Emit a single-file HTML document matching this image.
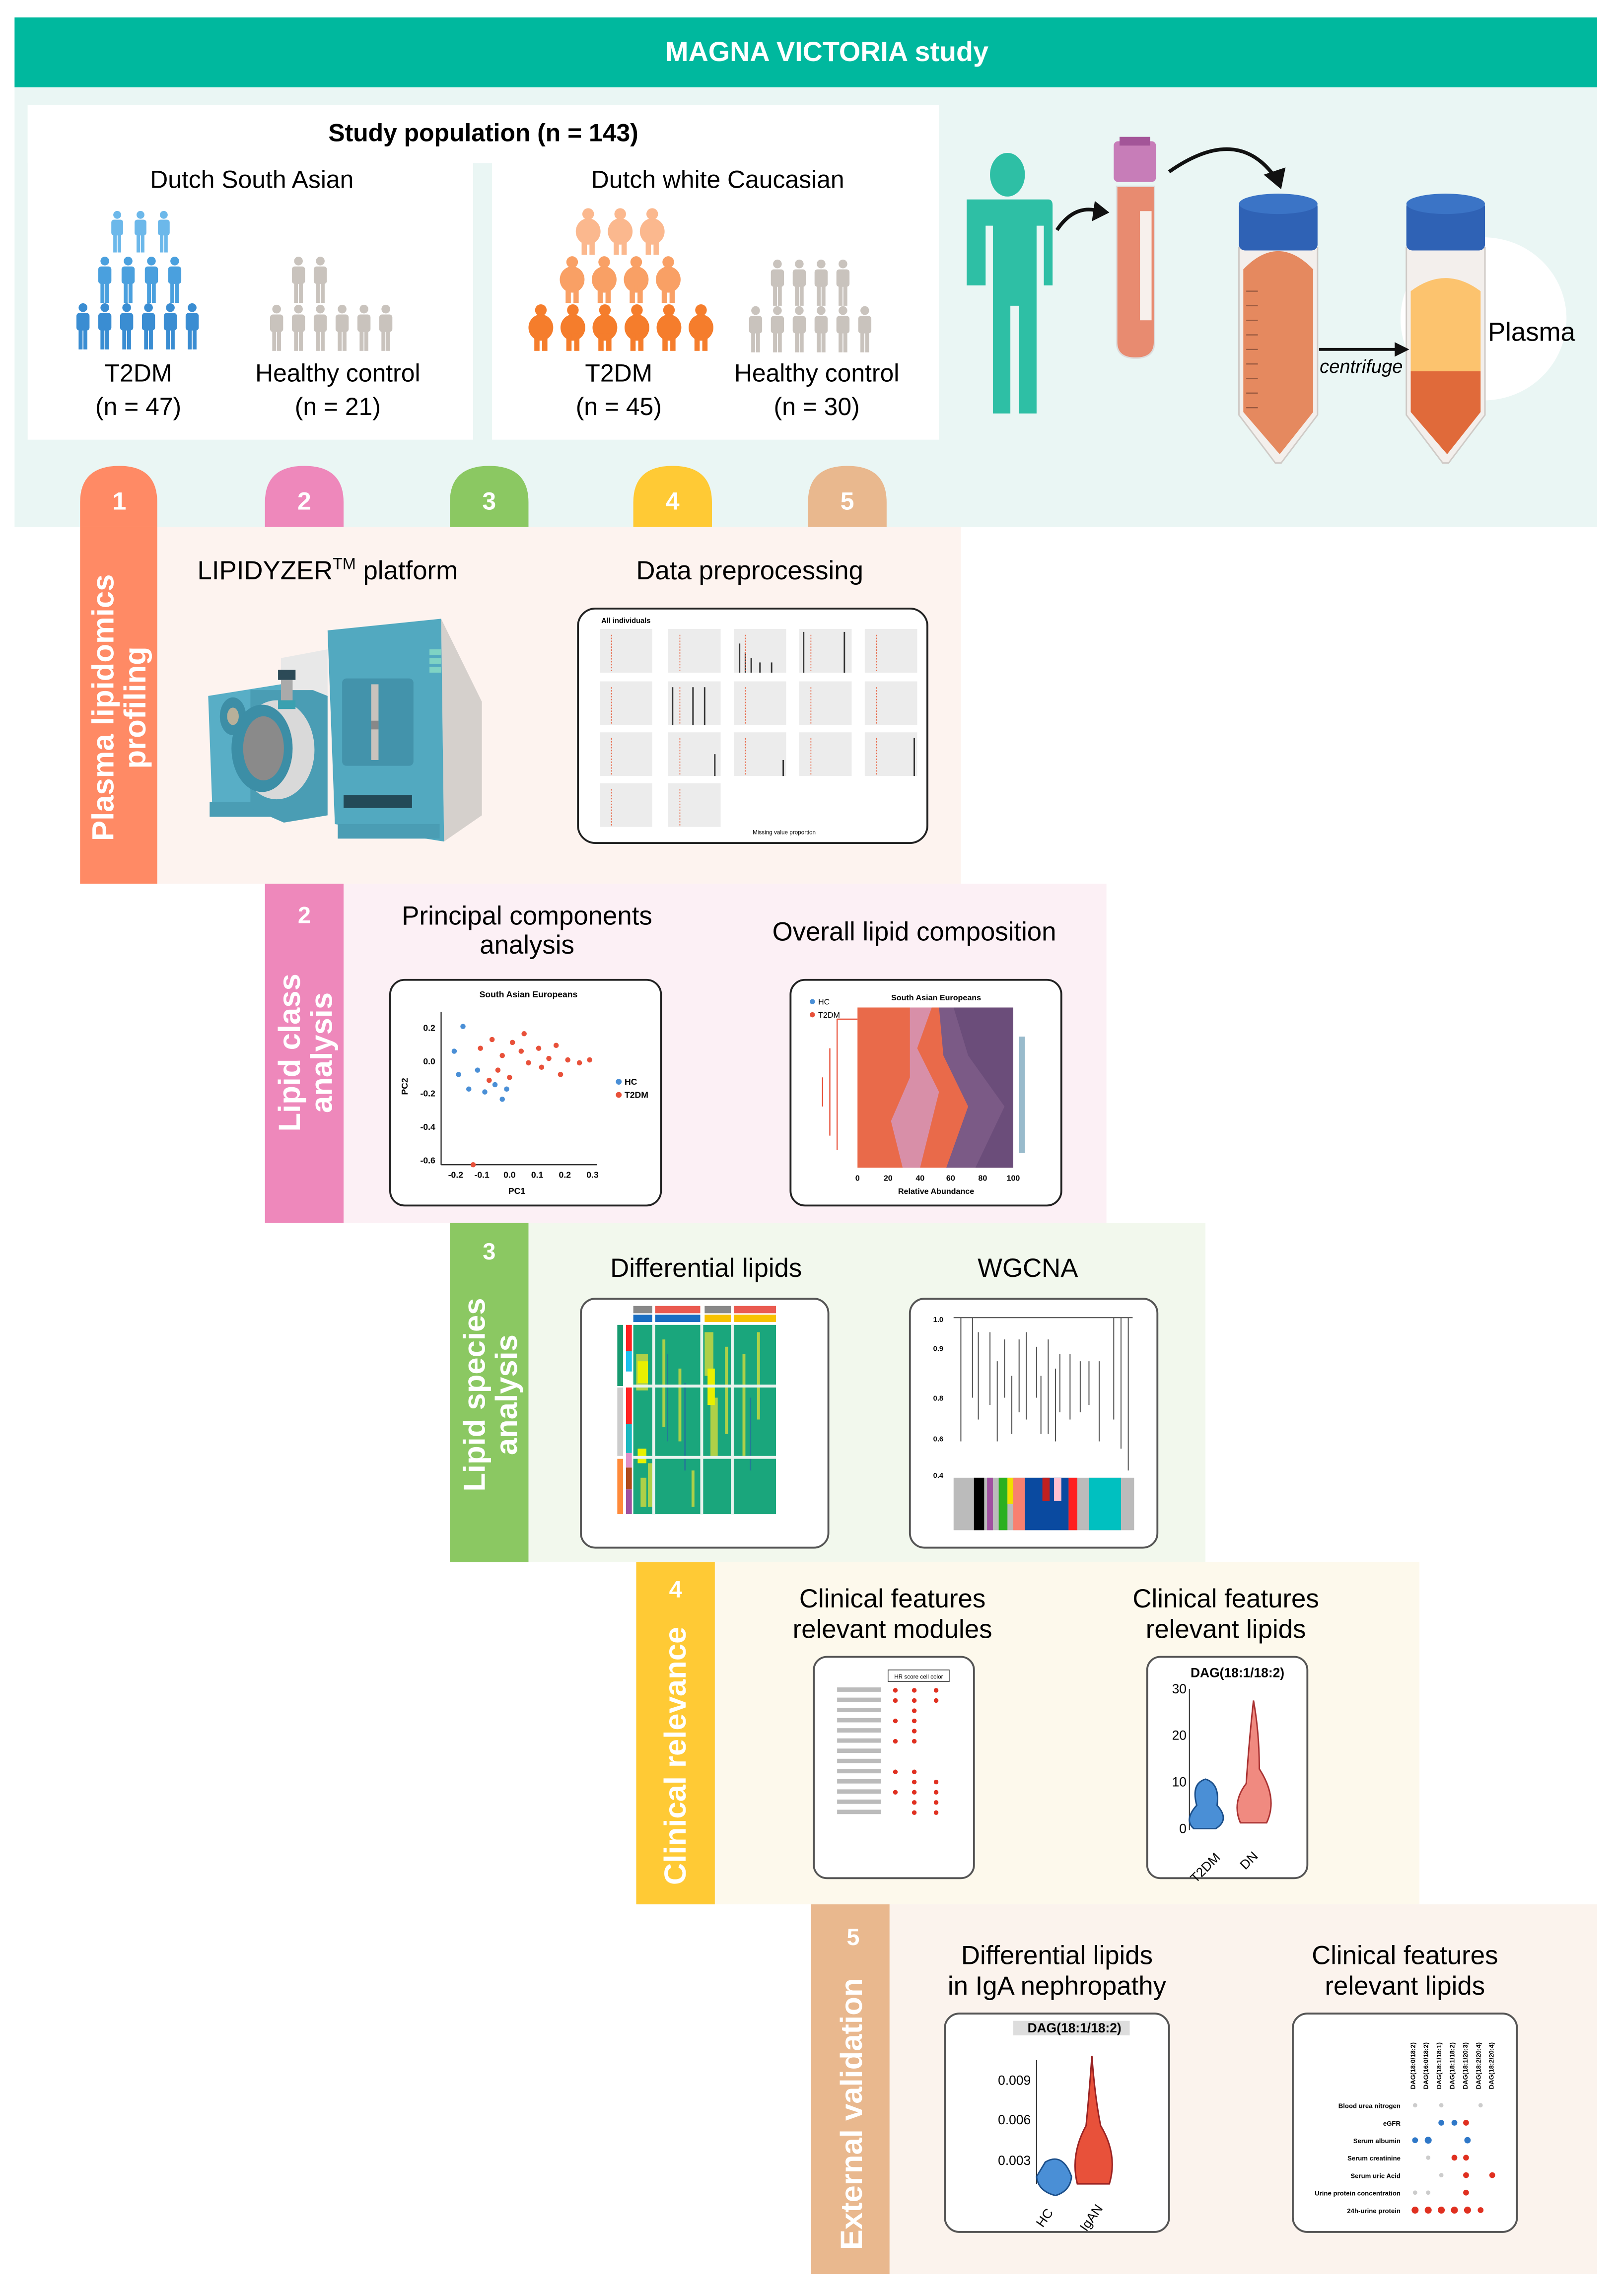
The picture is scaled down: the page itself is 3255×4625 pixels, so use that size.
<!DOCTYPE html>
<html><head><meta charset="utf-8"><style>
html,body{margin:0;padding:0;background:#fff;}
svg{display:block;}
text{font-family:"Liberation Sans",Arial,sans-serif;}
</style></head><body>
<svg width="3255" height="4625" viewBox="0 0 1110 1577" preserveAspectRatio="none" xmlns="http://www.w3.org/2000/svg">
<defs>
<symbol id="p" viewBox="0 0 10 32" overflow="visible">
<circle cx="5" cy="3.3" r="3"/>
<rect x="0.5" y="7" width="9" height="12" rx="2"/>
<rect x="2" y="17" width="2.7" height="15"/>
<rect x="5.3" y="17" width="2.7" height="15"/>
</symbol>
<symbol id="f" viewBox="0 0 18 32" overflow="visible">
<circle cx="9" cy="4" r="4"/>
<ellipse cx="9" cy="16" rx="8.5" ry="9"/>
<rect x="4.5" y="20" width="3.6" height="12"/>
<rect x="9.9" y="20" width="3.6" height="12"/>
</symbol>
</defs>
<rect width="1110" height="1577" fill="#fff"/>
<!-- header -->
<rect x="10" y="12" width="1087" height="48" fill="#00b89e"/>
<text x="568" y="42" font-size="19" font-weight="bold" fill="#fff" text-anchor="middle">MAGNA VICTORIA study</text>
<rect x="10" y="60" width="1087" height="302" fill="#eaf6f4"/>
<!-- population boxes -->
<rect x="19" y="72" width="626" height="40" fill="#fff"/>
<rect x="19" y="72" width="306" height="230" fill="#fff"/>
<rect x="338" y="72" width="307" height="230" fill="#fff"/>
<text x="332" y="97" font-size="17" font-weight="bold" text-anchor="middle">Study population (n = 143)</text>
<text x="173" y="129" font-size="17" text-anchor="middle">Dutch South Asian</text>
<text x="493" y="129" font-size="17" text-anchor="middle">Dutch white Caucasian</text>
<!-- blue people -->
<g fill="#6cb8ea">
<use href="#p" x="76" y="143" width="9" height="32"/><use href="#p" x="92" y="143" width="9" height="32"/><use href="#p" x="108" y="143" width="9" height="32"/>
</g>
<g fill="#4aa0de">
<use href="#p" x="67" y="176" width="10" height="32"/><use href="#p" x="83" y="176" width="10" height="32"/><use href="#p" x="99" y="176" width="10" height="32"/><use href="#p" x="115" y="176" width="10" height="32"/>
</g>
<g fill="#3a8dd2">
<use href="#p" x="52" y="208" width="10" height="32"/><use href="#p" x="67" y="208" width="10" height="32"/><use href="#p" x="82" y="208" width="10" height="32"/><use href="#p" x="97" y="208" width="10" height="32"/><use href="#p" x="112" y="208" width="10" height="32"/><use href="#p" x="127" y="208" width="10" height="32"/>
</g>
<g fill="#c9c3bd">
<use href="#p" x="200" y="176" width="10" height="32"/><use href="#p" x="215" y="176" width="10" height="32"/>
<use href="#p" x="185" y="209" width="10" height="32"/><use href="#p" x="200" y="209" width="10" height="32"/><use href="#p" x="215" y="209" width="10" height="32"/><use href="#p" x="230" y="209" width="10" height="32"/><use href="#p" x="245" y="209" width="10" height="32"/><use href="#p" x="260" y="209" width="10" height="32"/>
<use href="#p" x="529" y="178" width="10" height="32"/><use href="#p" x="544" y="178" width="10" height="32"/><use href="#p" x="559" y="178" width="10" height="32"/><use href="#p" x="574" y="178" width="10" height="32"/>
<use href="#p" x="514" y="210" width="10" height="32"/><use href="#p" x="529" y="210" width="10" height="32"/><use href="#p" x="544" y="210" width="10" height="32"/><use href="#p" x="559" y="210" width="10" height="32"/><use href="#p" x="574" y="210" width="10" height="32"/><use href="#p" x="589" y="210" width="10" height="32"/>
</g>
<g fill="#fbb88e">
<use href="#f" x="395" y="143" width="18" height="32"/><use href="#f" x="417" y="143" width="18" height="32"/><use href="#f" x="439" y="143" width="18" height="32"/>
</g>
<g fill="#f9a065">
<use href="#f" x="384" y="176" width="18" height="32"/><use href="#f" x="406" y="176" width="18" height="32"/><use href="#f" x="428" y="176" width="18" height="32"/><use href="#f" x="450" y="176" width="18" height="32"/>
</g>
<g fill="#f57d2c">
<use href="#f" x="362" y="209" width="19" height="32"/><use href="#f" x="384" y="209" width="19" height="32"/><use href="#f" x="406" y="209" width="19" height="32"/><use href="#f" x="428" y="209" width="19" height="32"/><use href="#f" x="450" y="209" width="19" height="32"/><use href="#f" x="472" y="209" width="19" height="32"/>
</g>
<g font-size="17" text-anchor="middle">
<text x="95" y="262">T2DM</text><text x="95" y="285">(n = 47)</text>
<text x="232" y="262">Healthy control</text><text x="232" y="285">(n = 21)</text>
<text x="425" y="262">T2DM</text><text x="425" y="285">(n = 45)</text>
<text x="561" y="262">Healthy control</text><text x="561" y="285">(n = 30)</text>
</g>
<!-- right: person + tubes -->
<ellipse cx="1019" cy="219" rx="57" ry="56" fill="#fff"/>
<g fill="#2ebfa5">
<ellipse cx="692" cy="120" rx="12" ry="15"/>
<path d="M664 137 H720 Q723 137 723 141 V196 H717 V155 H712 V284 H700 V210 H694 V284 H682 V155 H677 V196 H664 Z"/>
</g>
<path d="M726 158 Q738 140 755 145" stroke="#111" stroke-width="2.5" fill="none"/>
<path d="M752 138 L762 146 L750 152 Z" fill="#111"/>
<path d="M803 118 Q850 85 876 122" stroke="#111" stroke-width="2.5" fill="none"/>
<path d="M868 120 L880 130 L883 115 Z" fill="#111"/>
<!-- small tube -->
<rect x="765" y="97" width="29" height="28" rx="3" fill="#c77db8"/>
<rect x="769" y="94" width="21" height="6" fill="#a35598"/>
<path d="M767 128 H793 V235 Q793 246 780 246 Q767 246 767 235 Z" fill="#e88b70" stroke="#ddd" stroke-width="1"/>
<rect x="783" y="145" width="8" height="75" fill="#f7f0ec"/>
<!-- big tube 1 -->
<path d="M851 170 H905 V285 L880 318 L876 318 L851 285 Z" fill="#f3efec" stroke="#cfcac6"/>
<path d="M854 185 Q878 160 902 185 V283 L879 312 L854 283 Z" fill="#e5895f"/>
<rect x="851" y="138" width="54" height="34" rx="4" fill="#2f62b5"/>
<ellipse cx="878" cy="140" rx="27" ry="7" fill="#3b74c6"/>
<g stroke="#9a5a40" stroke-width="0.8">
<line x1="856" y1="200" x2="864" y2="200"/><line x1="856" y1="210" x2="864" y2="210"/><line x1="856" y1="220" x2="864" y2="220"/><line x1="856" y1="230" x2="864" y2="230"/><line x1="856" y1="240" x2="864" y2="240"/><line x1="856" y1="250" x2="864" y2="250"/><line x1="856" y1="260" x2="864" y2="260"/><line x1="856" y1="270" x2="864" y2="270"/><line x1="856" y1="280" x2="864" y2="280"/>
</g>
<!-- big tube 2 -->
<path d="M966 170 H1020 V285 L995 318 L991 318 L966 285 Z" fill="#f3efec" stroke="#cfcac6"/>
<path d="M969 200 Q993 182 1017 200 V255 H969 Z" fill="#fcc36e"/>
<path d="M969 255 H1017 V283 L994 312 L969 283 Z" fill="#e06a3a"/>
<rect x="966" y="138" width="54" height="34" rx="4" fill="#2f62b5"/>
<ellipse cx="993" cy="140" rx="27" ry="7" fill="#3b74c6"/>
<line x1="906" y1="240" x2="960" y2="240" stroke="#111" stroke-width="2"/>
<path d="M958 235 L968 240 L958 245 Z" fill="#111"/>
<text x="935" y="256" font-size="13" font-style="italic" text-anchor="middle">centrifuge</text>
<text x="1022" y="234" font-size="18">Plasma</text>
<!-- tabs -->
<path d="M55 362 V345 Q55 320 82 320 Q108 320 108 345 V362 Z" fill="#ff8a65"/>
<path d="M182 362 V345 Q182 320 209 320 Q236 320 236 345 V362 Z" fill="#ee88bb"/>
<path d="M309 362 V345 Q309 320 336 320 Q363 320 363 345 V362 Z" fill="#8bc862"/>
<path d="M435 362 V345 Q435 320 462 320 Q489 320 489 345 V362 Z" fill="#ffca35"/>
<path d="M555 362 V345 Q555 320 582 320 Q609 320 609 345 V362 Z" fill="#e9b88e"/>
<g font-size="17" font-weight="bold" fill="#fff" text-anchor="middle">
<text x="82" y="350">1</text><text x="209" y="350">2</text><text x="336" y="350">3</text><text x="462" y="350">4</text><text x="582" y="350">5</text>
</g>
<!-- section panels -->
<rect x="108" y="362" width="552" height="245" fill="#fdf3ef"/>
<rect x="55" y="362" width="53" height="245" fill="#ff8a65"/>
<rect x="236" y="607" width="524" height="233" fill="#fcf0f5"/>
<rect x="182" y="607" width="54" height="233" fill="#ee88bb"/>
<rect x="363" y="840" width="465" height="233" fill="#f2f8ed"/>
<rect x="309" y="840" width="54" height="233" fill="#8bc862"/>
<rect x="491" y="1073" width="484" height="235" fill="#fdf9ec"/>
<rect x="437" y="1073" width="54" height="235" fill="#ffca35"/>
<rect x="611" y="1308" width="486" height="254" fill="#fbf3ed"/>
<rect x="557" y="1308" width="54" height="254" fill="#e9b88e"/>
<g font-size="16" font-weight="bold" fill="#fff" text-anchor="middle">
<text x="209" y="634">2</text><text x="336" y="865">3</text><text x="464" y="1097">4</text><text x="586" y="1336">5</text>
</g>
<g font-size="21" font-weight="bold" fill="#fff" text-anchor="middle">
<text transform="translate(78,486) rotate(-90)">Plasma lipidomics</text>
<text transform="translate(100,486) rotate(-90)">profiling</text>
<text transform="translate(206,723) rotate(-90)">Lipid class</text>
<text transform="translate(228,723) rotate(-90)">analysis</text>
<text transform="translate(333,958) rotate(-90)">Lipid species</text>
<text transform="translate(355,958) rotate(-90)">analysis</text>
<text transform="translate(471,1206) rotate(-90)">Clinical relevance</text>
<text transform="translate(592,1452) rotate(-90)">External validation</text>
</g>
<!-- titles -->
<g font-size="18" text-anchor="middle">
<text x="225" y="398">LIPIDYZER<tspan font-size="11" dy="-7">TM</tspan><tspan dy="7"> platform</tspan></text>
<text x="515" y="398">Data preprocessing</text>
<text x="362" y="635">Principal components</text><text x="362" y="655">analysis</text>
<text x="628" y="646">Overall lipid composition</text>
<text x="485" y="877">Differential lipids</text>
<text x="706" y="877">WGCNA</text>
<text x="613" y="1104">Clinical features</text><text x="613" y="1125">relevant modules</text>
<text x="842" y="1104">Clinical features</text><text x="842" y="1125">relevant lipids</text>
<text x="726" y="1349">Differential lipids</text><text x="726" y="1370">in IgA nephropathy</text>
<text x="965" y="1349">Clinical features</text><text x="965" y="1370">relevant lipids</text>
</g>
<!-- machine -->
<path d="M303 425 L331 482 L331 560 L305 578 Z" fill="#d5d0cc"/>
<path d="M225 433 L303 425 L305 578 L230 566 Z" fill="#52a9c0"/>
<path d="M193 452 L225 446 L225 505 L193 508 Z" fill="#e8e8e8"/>
<path d="M143 478 L193 470 L195 558 L146 560 Z" fill="#58aec6"/>
<ellipse cx="160" cy="492" rx="9" ry="13" fill="#3d8ea6"/><ellipse cx="160" cy="492" rx="4" ry="6" fill="#b8b09a"/>
<rect x="144" y="551" width="45" height="10" fill="#4a9db4"/>
<rect x="232" y="566" width="70" height="10" fill="#4a9db4"/>
<path d="M172 474 H215 L225 478 L225 560 L195 565 L172 555 Z" fill="#4a9db4"/>
<ellipse cx="190" cy="515" rx="26" ry="34" fill="#d9d9d9"/>
<ellipse cx="180" cy="514" rx="21" ry="30" fill="#3c8ea6"/>
<ellipse cx="181" cy="514" rx="14" ry="22" fill="#8a8a8a"/>
<rect x="191" y="460" width="12" height="7" fill="#2c4a57"/>
<rect x="193" y="467" width="8" height="14" fill="#aaa"/>
<rect x="191" y="481" width="12" height="6" fill="#3aa0b0"/>
<rect x="235" y="466" width="49" height="60" rx="3" fill="#4393ab"/>
<rect x="255" y="470" width="5" height="52" fill="#c9c3bd"/>
<rect x="255" y="495" width="5" height="6" fill="#888"/>
<rect x="236" y="546" width="47" height="9" fill="#234a58"/>
<rect x="295" y="446" width="8" height="4" fill="#7fd3c4"/><rect x="295" y="452" width="8" height="4" fill="#7fd3c4"/><rect x="295" y="458" width="8" height="4" fill="#7fd3c4"/>
<!-- chart boxes -->
<g fill="#fff" stroke="#222" stroke-width="1.3">
<rect x="397" y="418" width="240" height="161" rx="12"/>
<rect x="268" y="673" width="186" height="155" rx="10"/>
<rect x="543" y="673" width="186" height="155" rx="10"/>
<rect x="399" y="892" width="170" height="171" rx="10" stroke="#555"/>
<rect x="625" y="892" width="170" height="171" rx="10" stroke="#555"/>
<rect x="559" y="1138" width="110" height="152" rx="9" stroke="#555"/>
<rect x="788" y="1138" width="110" height="152" rx="9" stroke="#555"/>
<rect x="649" y="1383" width="154" height="150" rx="10" stroke="#555"/>
<rect x="888" y="1383" width="154" height="150" rx="10" stroke="#555"/>
</g>
<!-- data preprocessing grid -->
<text x="413" y="428" font-size="5" font-weight="bold">All individuals</text>
<g fill="#ececec">
<rect x="412" y="432" width="36" height="30"/><rect x="459" y="432" width="36" height="30"/><rect x="504" y="432" width="36" height="30"/><rect x="549" y="432" width="36" height="30"/><rect x="594" y="432" width="36" height="30"/>
<rect x="412" y="468" width="36" height="30"/><rect x="459" y="468" width="36" height="30"/><rect x="504" y="468" width="36" height="30"/><rect x="549" y="468" width="36" height="30"/><rect x="594" y="468" width="36" height="30"/>
<rect x="412" y="503" width="36" height="30"/><rect x="459" y="503" width="36" height="30"/><rect x="504" y="503" width="36" height="30"/><rect x="549" y="503" width="36" height="30"/><rect x="594" y="503" width="36" height="30"/>
<rect x="412" y="538" width="36" height="30"/><rect x="459" y="538" width="36" height="30"/>
</g>
<g stroke="#333" stroke-width="1">
<line x1="508" y1="462" x2="508" y2="442"/><line x1="512" y1="462" x2="512" y2="448"/><line x1="516" y1="462" x2="516" y2="452"/><line x1="522" y1="462" x2="522" y2="455"/><line x1="530" y1="462" x2="530" y2="455"/>
<line x1="552" y1="462" x2="552" y2="434"/><line x1="580" y1="462" x2="580" y2="434"/>
<line x1="462" y1="498" x2="462" y2="472"/><line x1="476" y1="498" x2="476" y2="472"/><line x1="484" y1="498" x2="484" y2="472"/>
<line x1="628" y1="533" x2="628" y2="507"/><line x1="491" y1="533" x2="491" y2="518"/><line x1="538" y1="533" x2="538" y2="522"/>
</g>
<g stroke="#e86a4a" stroke-width="0.6" stroke-dasharray="1,1">
<line x1="420" y1="436" x2="420" y2="462"/><line x1="467" y1="436" x2="467" y2="462"/><line x1="512" y1="436" x2="512" y2="462"/><line x1="557" y1="436" x2="557" y2="462"/><line x1="602" y1="436" x2="602" y2="462"/>
<line x1="420" y1="472" x2="420" y2="498"/><line x1="467" y1="472" x2="467" y2="498"/><line x1="512" y1="472" x2="512" y2="498"/><line x1="557" y1="472" x2="557" y2="498"/><line x1="602" y1="472" x2="602" y2="498"/>
<line x1="420" y1="507" x2="420" y2="533"/><line x1="467" y1="507" x2="467" y2="533"/><line x1="512" y1="507" x2="512" y2="533"/><line x1="557" y1="507" x2="557" y2="533"/><line x1="602" y1="507" x2="602" y2="533"/>
<line x1="420" y1="542" x2="420" y2="568"/><line x1="467" y1="542" x2="467" y2="568"/>
</g>
<text x="517" y="573" font-size="4">Missing value proportion</text>
<!-- PCA -->
<text x="363" y="685" font-size="6" font-weight="bold" text-anchor="middle">South Asian Europeans</text>
<line x1="303" y1="695" x2="303" y2="800" stroke="#333" stroke-width="0.8"/>
<line x1="303" y1="800" x2="410" y2="800" stroke="#333" stroke-width="0.8"/>
<g font-size="6" font-weight="bold" text-anchor="end">
<text x="299" y="708">0.2</text><text x="299" y="731">0.0</text><text x="299" y="753">-0.2</text><text x="299" y="776">-0.4</text><text x="299" y="799">-0.6</text>
</g>
<g font-size="6" font-weight="bold" text-anchor="middle">
<text x="313" y="809">-0.2</text><text x="331" y="809">-0.1</text><text x="350" y="809">0.0</text><text x="369" y="809">0.1</text><text x="388" y="809">0.2</text><text x="407" y="809">0.3</text>
<text x="355" y="820">PC1</text>
</g>
<g fill="#e8513a">
<circle cx="330" cy="720" r="1.8"/><circle cx="338" cy="714" r="1.8"/><circle cx="345" cy="725" r="1.8"/><circle cx="352" cy="716" r="1.8"/><circle cx="358" cy="722" r="1.8"/><circle cx="363" cy="730" r="1.8"/><circle cx="370" cy="720" r="1.8"/><circle cx="377" cy="727" r="1.8"/><circle cx="382" cy="718" r="1.8"/><circle cx="390" cy="728" r="1.8"/><circle cx="398" cy="730" r="1.8"/><circle cx="405" cy="728" r="1.8"/><circle cx="342" cy="735" r="1.8"/><circle cx="350" cy="740" r="1.8"/><circle cx="336" cy="742" r="1.8"/><circle cx="360" cy="710" r="1.8"/><circle cx="325" cy="800" r="1.8"/><circle cx="372" cy="733" r="1.8"/><circle cx="385" cy="738" r="1.8"/>
<circle cx="425" cy="752" r="2"/>
</g>
<g fill="#4a8fd6">
<circle cx="318" cy="705" r="1.8"/><circle cx="315" cy="738" r="1.8"/><circle cx="322" cy="748" r="1.8"/><circle cx="328" cy="735" r="1.8"/><circle cx="333" cy="750" r="1.8"/><circle cx="340" cy="745" r="1.8"/><circle cx="345" cy="755" r="1.8"/><circle cx="312" cy="722" r="1.8"/><circle cx="348" cy="748" r="1.8"/>
<circle cx="425" cy="743" r="2"/>
</g>
<text x="429" y="745" font-size="6" font-weight="bold">HC</text><text x="429" y="754" font-size="6" font-weight="bold">T2DM</text>
<text transform="translate(280,752) rotate(-90)" font-size="6" font-weight="bold">PC2</text>
<!-- composition -->
<text x="643" y="687" font-size="5.5" font-weight="bold" text-anchor="middle">South Asian Europeans</text>
<circle cx="558" cy="688" r="1.8" fill="#4a8fd6"/><text x="562" y="690" font-size="5.5">HC</text>
<circle cx="558" cy="697" r="1.8" fill="#e8513a"/><text x="562" y="699" font-size="5.5">T2DM</text>
<rect x="589" y="692" width="107" height="110" fill="#e96a4a"/>
<path d="M625 692 L640 692 L630 720 L645 750 L632 802 L620 802 L612 770 L625 740 Z" fill="#d88fa8"/>
<path d="M645 692 H696 V802 H650 L665 760 L648 725 Z" fill="#7b5a86"/>
<path d="M655 692 H696 V802 H670 L690 760 L665 725 Z" fill="#6b4d7a"/>
<path d="M575 700 V790 M575 700 H589 M570 720 V780 M565 740 V760" stroke="#e8513a" stroke-width="0.8" fill="none"/>
<rect x="700" y="712" width="4" height="80" fill="#9bc"/>
<g font-size="5.5" font-weight="bold" text-anchor="middle">
<text x="589" y="811">0</text><text x="610" y="811">20</text><text x="632" y="811">40</text><text x="653" y="811">60</text><text x="675" y="811">80</text><text x="696" y="811">100</text>
<text x="643" y="820">Relative Abundance</text>
</g>
<!-- heatmap -->
<rect x="435" y="897" width="13" height="5" fill="#888"/><rect x="450" y="897" width="31" height="5" fill="#ea5a50"/><rect x="484" y="897" width="18" height="5" fill="#888"/><rect x="504" y="897" width="29" height="5" fill="#ea5a50"/>
<rect x="435" y="903" width="13" height="5" fill="#1a6ec2"/><rect x="450" y="903" width="31" height="5" fill="#1a6ec2"/><rect x="484" y="903" width="18" height="5" fill="#f8c200"/><rect x="504" y="903" width="29" height="5" fill="#f8c200"/>
<rect x="435" y="910" width="98" height="130" fill="#1aa67c"/>
<g fill="#c8d840" opacity="0.85">
<rect x="437" y="930" width="8" height="25"/><rect x="484" y="915" width="6" height="30"/><rect x="488" y="960" width="5" height="40"/><rect x="455" y="920" width="2" height="60"/><rect x="466" y="940" width="2" height="50"/><rect x="498" y="925" width="2" height="60"/><rect x="510" y="930" width="2" height="70"/><rect x="520" y="915" width="2" height="60"/><rect x="445" y="1005" width="3" height="30"/><rect x="475" y="1010" width="2" height="25"/><rect x="440" y="1015" width="4" height="20"/>
</g>
<g fill="#e8f000"><rect x="438" y="935" width="7" height="15"/><rect x="486" y="940" width="5" height="25"/><rect x="438" y="995" width="6" height="10"/></g>
<g fill="#2a5ea8" opacity="0.6"><rect x="458" y="930" width="1" height="60"/><rect x="470" y="950" width="1" height="60"/><rect x="515" y="960" width="1" height="50"/></g>
<rect x="435" y="951" width="98" height="2" fill="#e8f3ee"/><rect x="435" y="1000" width="98" height="2" fill="#e8f3ee"/>
<rect x="448" y="910" width="2" height="130" fill="#e8f3ee"/><rect x="481" y="910" width="2" height="130" fill="#e8f3ee"/><rect x="502" y="910" width="2" height="130" fill="#e8f3ee"/>
<rect x="424" y="910" width="4" height="42" fill="#169a70"/><rect x="424" y="953" width="4" height="47" fill="#ccc"/><rect x="424" y="1002" width="4" height="38" fill="#ff8a3a"/>
<rect x="430" y="910" width="4" height="18" fill="#f22"/><rect x="430" y="928" width="4" height="14" fill="#1cc0f0"/><rect x="430" y="953" width="4" height="25" fill="#f22"/><rect x="430" y="978" width="4" height="20" fill="#1ab8c0"/><rect x="430" y="998" width="4" height="10" fill="#e090c8"/><rect x="430" y="1008" width="4" height="15" fill="#b04a1a"/><rect x="430" y="1023" width="4" height="17" fill="#a050a0"/>
<!-- WGCNA -->
<g font-size="5" font-weight="bold"><text x="641" y="908">1.0</text><text x="641" y="928">0.9</text><text x="641" y="962">0.8</text><text x="641" y="990">0.6</text><text x="641" y="1015">0.4</text></g>
<path d="M655 905 H778 M660 905 V990 M668 905 V960 M672 915 V975 M680 915 V965 M690 920 V960 M700 920 V970 M705 915 V975 M712 925 V960 M720 920 V985 M728 930 V970 M735 930 V975 M742 935 V970 M748 935 V965 M755 935 V990 M765 905 V975 M770 905 V995 M775 905 V1010 M685 935 V990 M695 945 V985 M715 945 V985 M725 940 V990" stroke="#555" stroke-width="0.7" fill="none"/>
<rect x="655" y="1015" width="124" height="36" fill="#bbb"/>
<rect x="669" y="1015" width="7" height="36" fill="#000"/><rect x="678" y="1015" width="4" height="36" fill="#a050a0"/><rect x="686" y="1015" width="6" height="36" fill="#2ab020"/><rect x="692" y="1015" width="4" height="18" fill="#f0e000"/><rect x="696" y="1015" width="8" height="36" fill="#f88070"/><rect x="704" y="1015" width="30" height="36" fill="#0a4aa0"/><rect x="734" y="1015" width="6" height="36" fill="#ff2020"/><rect x="748" y="1015" width="22" height="36" fill="#00c0c0"/><rect x="716" y="1015" width="5" height="16" fill="#c02020"/><rect x="724" y="1015" width="5" height="16" fill="#ffc0d0"/>
<!-- modules dot plot -->
<rect x="610" y="1147" width="42" height="8" fill="none" stroke="#333" stroke-width="0.5"/>
<text x="631" y="1153" font-size="4" text-anchor="middle">HR score cell color</text>
<g fill="#e03020">
<circle cx="615" cy="1161" r="1.6"/><circle cx="628" cy="1161" r="1.6"/><circle cx="643" cy="1161" r="1.6"/><circle cx="615" cy="1168" r="1.6"/><circle cx="628" cy="1168" r="1.6"/><circle cx="643" cy="1168" r="1.6"/><circle cx="628" cy="1175" r="1.6"/><circle cx="615" cy="1182" r="1.6"/><circle cx="628" cy="1182" r="1.6"/><circle cx="628" cy="1189" r="1.6"/><circle cx="615" cy="1196" r="1.6"/><circle cx="628" cy="1196" r="1.6"/><circle cx="615" cy="1217" r="1.6"/><circle cx="628" cy="1217" r="1.6"/><circle cx="628" cy="1224" r="1.6"/><circle cx="643" cy="1224" r="1.6"/><circle cx="615" cy="1231" r="1.6"/><circle cx="628" cy="1231" r="1.6"/><circle cx="643" cy="1231" r="1.6"/><circle cx="628" cy="1238" r="1.6"/><circle cx="643" cy="1238" r="1.6"/><circle cx="628" cy="1245" r="1.6"/><circle cx="643" cy="1245" r="1.6"/>
</g>
<g fill="#bbb"><rect x="575" y="1159" width="30" height="3"/><rect x="575" y="1166" width="30" height="3"/><rect x="575" y="1173" width="30" height="3"/><rect x="575" y="1180" width="30" height="3"/><rect x="575" y="1187" width="30" height="3"/><rect x="575" y="1194" width="30" height="3"/><rect x="575" y="1201" width="30" height="3"/><rect x="575" y="1208" width="30" height="3"/><rect x="575" y="1215" width="30" height="3"/><rect x="575" y="1222" width="30" height="3"/><rect x="575" y="1229" width="30" height="3"/><rect x="575" y="1236" width="30" height="3"/><rect x="575" y="1243" width="30" height="3"/></g>
<!-- violin 1 -->
<text x="850" y="1152" font-size="9" font-weight="bold" text-anchor="middle">DAG(18:1/18:2)</text>
<line x1="817" y1="1160" x2="817" y2="1257" stroke="#333" stroke-width="0.7"/>
<g font-size="9" text-anchor="end"><text x="815" y="1163">30</text><text x="815" y="1195">20</text><text x="815" y="1227">10</text><text x="815" y="1259">0</text></g>
<path d="M828 1222 Q838 1225 836 1240 Q845 1250 835 1256 H820 Q813 1250 822 1240 Q818 1225 828 1222 Z" fill="#4a8fd6" stroke="#1c4f8a"/>
<path d="M861 1168 Q865 1190 865 1215 Q878 1235 870 1252 H852 Q846 1238 856 1225 Q858 1195 861 1168 Z" fill="#f08a80" stroke="#a33"/>
<text x="830" y="1285" font-size="9" transform="rotate(-45 830 1285)" text-anchor="middle">T2DM</text>
<text x="860" y="1280" font-size="9" transform="rotate(-45 860 1280)" text-anchor="middle">DN</text>
<!-- violin 2 -->
<rect x="696" y="1388" width="80" height="10" fill="#ddd"/>
<text x="738" y="1396" font-size="9" font-weight="bold" text-anchor="middle">DAG(18:1/18:2)</text>
<line x1="712" y1="1415" x2="712" y2="1500" stroke="#333" stroke-width="0.7"/>
<g font-size="9" text-anchor="end"><text x="708" y="1432">0.009</text><text x="708" y="1459">0.006</text><text x="708" y="1487">0.003</text></g>
<path d="M718 1485 Q730 1478 736 1495 Q735 1505 725 1508 Q713 1505 712 1495 Z" fill="#4a8fd6" stroke="#1c4f8a"/>
<path d="M750 1412 Q752 1440 756 1460 Q768 1480 762 1500 H740 Q735 1480 746 1460 Q748 1440 750 1412 Z" fill="#e8513a" stroke="#922"/>
<text x="720" y="1525" font-size="9" transform="rotate(-55 720 1525)" text-anchor="middle">HC</text>
<text x="752" y="1525" font-size="9" transform="rotate(-55 752 1525)" text-anchor="middle">IgAN</text>
<!-- clinical lipids dot -->
<g font-size="4.5" text-anchor="end" font-weight="bold">
<text x="962" y="1448">Blood urea nitrogen</text><text x="962" y="1460">eGFR</text><text x="962" y="1472">Serum albumin</text><text x="962" y="1484">Serum creatinine</text><text x="962" y="1496">Serum uric Acid</text><text x="962" y="1508">Urine protein concentration</text><text x="962" y="1520">24h-urine protein</text>
</g>
<g font-size="4.5" font-weight="bold">
<text transform="translate(972,1435) rotate(-90)">DAG(18:0/18:2)</text><text transform="translate(981,1435) rotate(-90)">DAG(16:0/18:2)</text><text transform="translate(990,1435) rotate(-90)">DAG(18:1/18:1)</text><text transform="translate(999,1435) rotate(-90)">DAG(18:1/18:2)</text><text transform="translate(1008,1435) rotate(-90)">DAG(18:1/20:3)</text><text transform="translate(1017,1435) rotate(-90)">DAG(18:2/20:4)</text><text transform="translate(1026,1435) rotate(-90)">DAG(18:2/20:4)</text>
</g>
<g fill="#e03020"><circle cx="1007" cy="1458" r="2"/><circle cx="999" cy="1482" r="2"/><circle cx="1007" cy="1482" r="2"/><circle cx="1007" cy="1494" r="2"/><circle cx="1025" cy="1494" r="2"/><circle cx="1007" cy="1506" r="2"/><circle cx="972" cy="1518" r="2.4"/><circle cx="981" cy="1518" r="2.4"/><circle cx="990" cy="1518" r="2.4"/><circle cx="999" cy="1518" r="2.4"/><circle cx="1008" cy="1518" r="2.4"/><circle cx="1017" cy="1518" r="2"/></g>
<g fill="#2f78c8"><circle cx="972" cy="1470" r="2"/><circle cx="981" cy="1470" r="2.4"/><circle cx="990" cy="1458" r="2"/><circle cx="999" cy="1458" r="2"/><circle cx="1008" cy="1470" r="2.2"/></g>
<g fill="#ccc"><circle cx="972" cy="1446" r="1.5"/><circle cx="990" cy="1446" r="1.5"/><circle cx="1017" cy="1446" r="1.5"/><circle cx="981" cy="1482" r="1.5"/><circle cx="990" cy="1494" r="1.5"/><circle cx="972" cy="1506" r="1.5"/><circle cx="981" cy="1506" r="1.5"/></g>
</svg>
</body></html>
